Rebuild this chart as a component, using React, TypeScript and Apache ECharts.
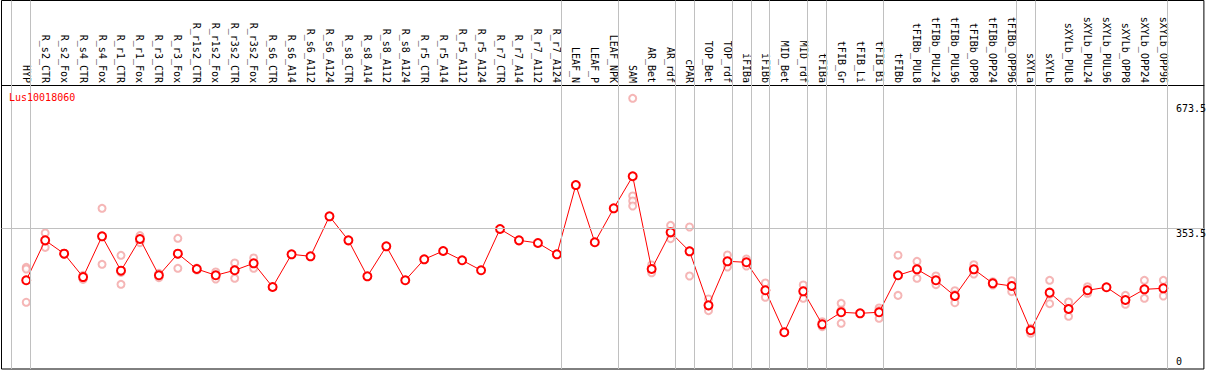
import React, { useEffect, useRef } from "react";
import * as echarts from "echarts";

const categories = [
  "HYP", "R_s2_CTR", "R_s2_Fox", "R_s4_CTR", "R_s4_Fox", "R_r1_CTR", "R_r1_Fox", "R_r3_CTR", "R_r3_Fox",
  "R_r1s2_CTR", "R_r1s2_Fox", "R_r3s2_CTR", "R_r3s2_Fox", "R_s6_CTR", "R_s6_A14", "R_s6_A112", "R_s6_A124",
  "R_s8_CTR", "R_s8_A14", "R_s8_A112", "R_s8_A124", "R_r5_CTR", "R_r5_A14", "R_r5_A112", "R_r5_A124",
  "R_r7_CTR", "R_r7_A14", "R_r7_A112", "R_r7_A124", "LEAF_N", "LEAF_P", "LEAF_NPK", "SAM", "AR_Bet", "AR_rdf",
  "cPAR", "TOP_Bet", "TOP_rdf", "iFIBa", "iFIBb", "MID_Bet", "MID_rdf", "tFIBa", "tFIB_Gr", "tFIB_Li", "tFIB_Bi",
  "tFIBb", "tFIBb_PUL8", "tFIBb_PUL24", "tFIBb_PUL96", "tFIBb_OPP8", "tFIBb_OPP24", "tFIBb_OPP96",
  "sXYLa", "sXYLb", "sXYLb_PUL8", "sXYLb_PUL24", "sXYLb_PUL96", "sXYLb_OPP8", "sXYLb_OPP24", "sXYLb_OPP96",
];

const meanValues = [
  220.7, 323, 288.8, 229, 333.3, 245.3, 326.4, 233.5, 288.8, 249.6, 233.5, 246.3, 264.2,
  203.5, 287.2, 282.1, 384.5, 323, 230.9, 307.7, 220.7, 274.4, 295.7, 271.9, 246.3,
  352, 323, 316.2, 287.2, 464.5, 318, 405, 487, 249.6, 343.5, 294.9, 156.6, 269.3,
  266.8, 195.1, 87.6, 192.5, 108, 138.8, 136.2, 138.8, 233.5, 248.8, 220.7, 180.5,
  248.8, 213, 206.1, 92.7, 189, 147.2, 195.1, 202.8, 170.2, 197.6, 200.2,
];

const replicateValues: number[][] = [
  [254, 249.6, 164.4], [341.8, 323, 305], [290, 287], [233.5, 223], [405, 333, 261.6],
  [284.7, 241, 210.4], [335, 317], [238.6, 227.3], [328.2, 287, 251.4], [252, 247],
  [242, 224], [265, 248, 225.8], [277.8, 251.4], [], [], [], [], [], [], [], [], [], [], [], [],
  [], [], [], [], [], [], [], [686.6, 436.5, 423.7, 410.9], [259.9, 240], [361.4, 342, 327.3],
  [357.1, 296, 231.7], [172.8, 154, 142.9], [285.5, 268, 254.7], [275.2, 257.3], [213.8, 194, 177.2],
  [], [208.6, 194, 174.6], [114.7, 107, 101.9], [161.8, 144, 110.6], [], [149.8, 143, 123.4],
  [285, 233, 182], [269.3, 251, 225.8], [231.7, 209.4], [194.1, 184, 163.3], [260.6, 236.8],
  [217.1, 208.7], [219.7, 207, 191.5], [97.8, 95, 85], [220.7, 185, 160.8], [165.1, 148, 128.5],
  [204.3, 187.4], [], [182.3, 159.2], [220.7, 198, 174.6], [220.7, 200, 180.5],
];

// group separators drawn right after these column indices
const separatorAfter = [-1, 0, 28, 31, 34, 35, 37, 38, 39, 41, 42, 45, 52, 53, 60];
const yTickValues = [353.5, 673.5];
const yZeroTick = [0];
const geneName = "Lus10018060";

const FONT = "DejaVu Sans Mono";

export default function App() {
  const ref = useRef<HTMLDivElement>(null);
  useEffect(() => {
    if (!ref.current) return;
    const chart = echarts.init(ref.current, null, { renderer: "svg" });
    const meanData = meanValues.map((v, i) => [i, v]);
    const repData: number[][] = [];
    replicateValues.forEach((reps, i) => reps.forEach((v) => repData.push([i, v])));
    const sepLines = separatorAfter.map((i) => ({ xAxis: i + 0.23 }));
    const yLabelCommon = {
      inside: true,
      align: "left",
      margin: 28,
      color: "#000",
      fontFamily: FONT,
      fontSize: 10,
      overflow: "none",
    };
    chart.setOption({
      animation: false,
      title: {
        text: geneName,
        left: 9,
        top: 92,
        padding: 0,
        textStyle: { color: "#ff0000", fontFamily: FONT, fontSize: 10, fontWeight: "normal" },
      },
      grid: {
        left: 1.5,
        right: 2,
        top: 0.5,
        bottom: 1,
        show: true,
        borderColor: "#000",
        borderWidth: 1,
        backgroundColor: "#fff",
      },
      xAxis: {
        type: "value",
        min: -1.305,
        max: 62.14,
        position: "top",
        offset: -84.5,
        axisLine: { show: true, onZero: false, lineStyle: { color: "#000", width: 1 } },
        axisTick: { show: false },
        splitLine: { show: false },
        axisLabel: {
          customValues: categories.map((_, i) => i),
          rotate: 90,
          margin: 2,
          color: "#000",
          fontFamily: FONT,
          fontSize: 10,
          formatter: (v: number) => categories[Math.round(v)] ?? "",
        },
      },
      yAxis: [
        {
          type: "value",
          min: -6.4,
          max: 937,
          position: "right",
          axisLine: { show: false },
          axisTick: { show: false },
          splitLine: { show: false },
          axisLabel: { ...yLabelCommon, customValues: yTickValues, verticalAlign: "top" },
        },
        {
          type: "value",
          min: -6.4,
          max: 937,
          position: "right",
          axisLine: { show: false },
          axisTick: { show: false },
          splitLine: { show: false },
          axisLabel: { ...yLabelCommon, customValues: yZeroTick, verticalAlign: "bottom", formatter: (v: number) => String(v) },
        },
      ],
      series: [
        {
          type: "scatter",
          data: repData,
          symbol: "emptyCircle",
          symbolSize: 7,
          itemStyle: { color: "#f2a4a4", borderColor: "#f2a4a4", borderWidth: 1.2 },
          silent: true,
          z: 2,
          markLine: {
            silent: true,
            symbol: "none",
            label: { show: false },
            lineStyle: { color: "#c0c0c0", width: 1, type: "solid" },
            data: [...sepLines, { yAxis: yTickValues[0] }],
          },
        },
        {
          type: "line",
          data: meanData,
          symbol: "emptyCircle",
          symbolSize: 8,
          itemStyle: { color: "#ff0000", borderColor: "#ff0000", borderWidth: 1.6 },
          lineStyle: { color: "#ff0000", width: 1 },
          silent: true,
          z: 3,
        },
      ],
    });
    return () => chart.dispose();
  }, []);
  return <div ref={ref} style={{ position: "absolute", left: 0, top: 0, width: 1209, height: 370 }} />;
}
